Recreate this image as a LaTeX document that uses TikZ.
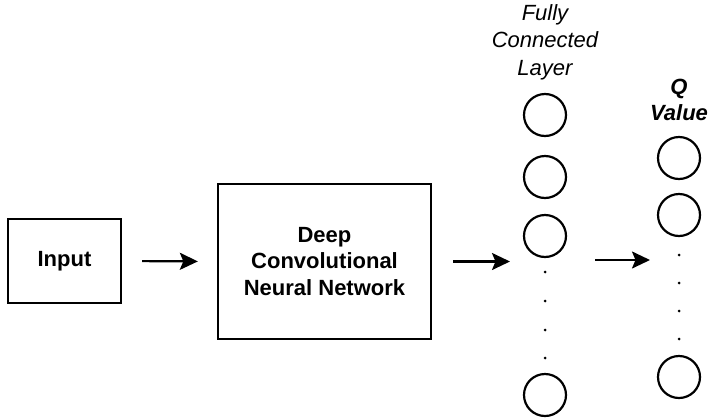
\documentclass[tikz,border=0pt]{standalone}
\usepackage{fontspec}
\setmainfont{Liberation Sans}
\usetikzlibrary{arrows.meta}
\begin{document}
\begin{tikzpicture}[x=1pt,y=-1pt,
  every node/.style={font=\fontsize{22}{27}\selectfont},
  blockbox/.style={draw,line width=2.3pt,inner sep=0pt,font=\fontsize{22}{26.5}\selectfont\bfseries,align=center},
  neuron/.style={draw,circle,line width=2.2pt,minimum size=42pt,inner sep=0pt},
  gapdot/.style={fill,circle,minimum size=3pt,inner sep=0pt},
  arr/.style={line width=2.2pt,-{Stealth[length=18pt,width=17pt,inset=3.5pt]}}]
\useasboundingbox (0,0) rectangle (709,418);

% input and feature extractor
\node[blockbox,minimum width=113pt,minimum height=84pt] (inp) at (64.5,261) {Input};
\node[blockbox,minimum width=213pt,minimum height=155pt] (dcnn) at (324.5,261.5)
  {Deep\\Convolutional\\Neural Network};

% fully connected layer
\node[align=center,font=\fontsize{22}{27.5}\selectfont\itshape] (fclab) at (545,42) {Fully\\Connected\\Layer};
\node[neuron] (fc1) at (545,115) {};
\node[neuron] (fc2) at (545,177) {};
\node[neuron] (fc3) at (545,236) {};
\node[gapdot] (fcd1) at (545,272) {};
\node[gapdot] (fcd2) at (545,301) {};
\node[gapdot] (fcd3) at (545,330) {};
\node[gapdot] (fcd4) at (545,358) {};
\node[neuron] (fc4) at (545,395) {};

% output layer
\node[align=center,font=\fontsize{22}{26}\selectfont\bfseries\itshape] (qlab) at (679,100) {Q\\Value};
\node[neuron] (q1) at (679,158) {};
\node[neuron] (q2) at (679,215) {};
\node[gapdot] (qd1) at (679,255) {};
\node[gapdot] (qd2) at (679,283) {};
\node[gapdot] (qd3) at (679,311) {};
\node[gapdot] (qd4) at (679,339) {};
\node[neuron] (q3) at (679,377) {};

% connectors
\coordinate (a2end) at (510,261.5);
\coordinate (a3start) at (595,260);
\coordinate (a3end) at (650,260);
\draw[arr,shorten <=20pt,shorten >=19pt] (inp.east) -- (dcnn.west);
\draw[arr,shorten <=21pt] (dcnn.east) -- (a2end);
\draw[arr] (a3start) -- (a3end);
\end{tikzpicture}
\end{document}
